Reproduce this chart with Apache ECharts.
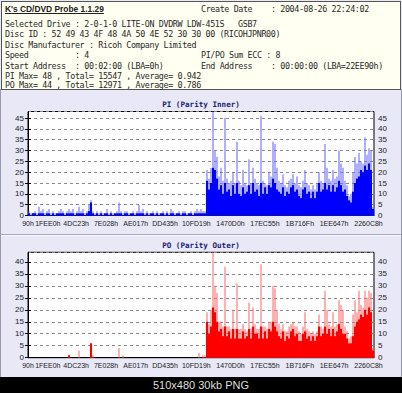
<!DOCTYPE html>
<html><head><meta charset="utf-8">
<script src="https://cdn.jsdelivr.net/npm/echarts@6/dist/echarts.min.js"></script>
<style>
html,body{margin:0;padding:0;width:402px;height:393px;overflow:hidden;background:#e8e8f6;}
#panel{position:absolute;left:0;top:89px;width:400px;height:287px;border:1px solid #9a9aae;background:#e8e8f6}
#sep{position:absolute;left:1px;top:234px;width:400px;height:1px;background:#a8a8bc}
#sep2{position:absolute;left:1px;top:235px;width:400px;height:1px;background:#fafaff}
#hdr{position:absolute;left:1px;top:1px;width:398px;height:87px;border:1px solid #555;background:#fffff2}
.l{position:absolute;font-family:'DejaVu Sans Mono',monospace;font-size:8.4px;letter-spacing:-0.38px;color:#2a2a2a;white-space:pre;line-height:9px}
#ttl{position:absolute;left:5px;top:4px;font-family:'Liberation Sans',Arial,sans-serif;font-weight:bold;font-size:8.4px;color:#222;text-decoration:underline;white-space:pre;line-height:10px}
#chart{position:absolute;left:0;top:0;width:402px;height:393px}
#cap{position:absolute;left:0;top:377px;width:402px;height:16px;background:#000;color:#ddd;font:11px 'Liberation Sans',Arial,sans-serif;text-align:center;line-height:17px}
</style></head>
<body>
<div id="panel"></div>
<div id="sep"></div><div id="sep2"></div>
<div id="hdr"></div>
<div id="ttl">K's CD/DVD Probe 1.1.29</div>
<div class="l" style="left:201px;top:4.5px">Create Date    : 2004-08-26 22:24:02</div>
<div class="l" style="left:5px;top:19.5px">Selected Drive : 2-0-1-0 LITE-ON DVDRW LDW-451S   GSB7</div>
<div class="l" style="left:5px;top:30px">Disc ID : 52 49 43 4F 48 4A 50 4E 52 30 30 00 (RICOHJPNR00)</div>
<div class="l" style="left:5px;top:40.5px">Disc Manufacturer : Ricoh Company Limited</div>
<div class="l" style="left:5px;top:51px">Speed          : 4</div>
<div class="l" style="left:201px;top:51px">PI/PO Sum ECC : 8</div>
<div class="l" style="left:5px;top:61.5px">Start Address  : 00:02:00 (LBA=0h)</div>
<div class="l" style="left:201px;top:61.5px">End Address    : 00:00:00 (LBA=22EE90h)</div>
<div class="l" style="left:5px;top:71.5px">PI Max= 48 , Total= 15547 , Average= 0.942</div>
<div class="l" style="left:5px;top:80.5px">PO Max= 44 , Total= 12971 , Average= 0.786</div>
<div id="chart"></div>
<div id="cap">510x480 30kb PNG</div>
<script>
// ---------- data ----------
const END_LBA_HEX = '22EE90';
const xTickLabels = ['90h','1FEE0h','4DC23h','7E028h','AE017h','DD435h','10FD19h','1470D0h','17EC55h','1B716Fh','1EE647h','2260C8h'];
const piTitle = 'PI (Parity Inner)';
const poTitle = 'PO (Parity Outer)';
const piMax = 48, poMax = 44;

// sampled error counts along the disc (peak per sample, and the dense base level)
const piPeak = [
2,1,1,2,1,4,2,3,1,2, 3,1,2,1,1,2,3,2,1,2, 3,2,3,1,2,4,2,3,1,2, 5,7,2,1,2,1,2,1,1,3,
1,2,1,1,2,6,2,1,2,2, 1,1,2,1,2,5,2,3,1,2, 1,1,2,1,2,1,1,2,1,2, 1,3,2,1,1,2,1,2,2,1,
1,2,1,2,3,2,
3,2,2,21,17,22,48,30,27,18, 22,16,45,17,15,16,20,15,34,16, 14,21,15,14,26,15,22,17,15,14,
46,16,15,14,20,18,34,33,22,16, 15,19,14,13,16,17,19,15,18,14, 13,16,21,15,14,12,14,12,15,20,
16,15,33,22,17,16,21,17,18,30, 24,22,16,14,9,10,20,27,24,29, 25,24,36,28,31,30,4];
const piBase = [
1,0,1,1,0,1,1,1,0,1, 1,0,1,0,1,1,1,1,0,1, 1,1,1,0,1,1,1,1,0,1, 2,6,1,0,1,0,1,0,1,1,
0,1,0,1,1,1,1,0,1,1, 0,1,1,0,1,1,1,1,0,1, 0,1,1,0,1,0,1,1,0,1, 0,1,1,0,1,1,0,1,1,0,
1,1,0,1,1,1,
1,1,1,16,12,15,22,21,17,12, 14,10,15,11,12,9,14,10,15,10, 9,13,10,11,14,10,15,11,12,9,
15,10,13,10,14,13,17,15,12,11, 10,13,9,11,10,13,14,11,12,9, 8,12,13,10,11,8,11,8,11,15,
11,12,15,12,14,11,14,11,13,16, 14,11,12,9,7,6,11,15,17,18, 21,20,23,21,24,21,3];
const poPeak = [
0,0,0,0,0,0,0,0,0,0, 0,0,0,0,0,0,0,0,0,0, 1,0,0,0,0,3,0,0,0,0, 0,6,1,0,0,0,0,0,0,0,
0,0,0,0,0,4,0,1,0,0, 0,0,0,0,0,0,0,0,0,0, 0,0,0,0,0,0,0,0,0,0, 0,0,0,0,0,0,0,0,0,0,
0,0,0,0,0,2,
0,1,1,19,14,20,44,30,27,15, 15,13,38,13,13,12,20,12,31,12, 12,14,12,11,23,12,21,14,12,12,
39,13,13,12,15,15,30,29,20,14, 12,14,11,11,13,14,15,13,13,11, 10,13,19,12,11,10,11,10,11,18,
13,12,28,20,14,13,19,13,14,24, 22,20,13,11,8,9,18,24,19,28, 22,21,28,25,28,27,4];
const poBase = [
0,0,0,0,0,0,0,0,0,0, 0,0,0,0,0,0,0,0,0,0, 1,0,0,0,0,0,0,0,0,0, 0,6,0,0,0,0,0,0,0,0,
0,0,0,0,0,0,0,0,0,0, 0,0,0,0,0,0,0,0,0,0, 0,0,0,0,0,0,0,0,0,0, 0,0,0,0,0,0,0,0,0,0,
0,0,0,0,0,0,
0,0,0,15,10,13,21,19,15,11, 12,9,13,9,11,8,12,8,12,8, 8,11,8,9,12,8,13,10,10,8,
13,8,11,8,12,11,15,13,11,9, 8,11,7,9,8,11,12,9,10,7, 7,10,11,8,9,7,9,7,9,13,
9,10,13,10,12,9,12,9,11,14, 12,10,10,8,6,6,9,13,15,16, 18,17,20,18,21,19,3];

// ---------- chart ----------
const END_LBA = parseInt(END_LBA_HEX, 16);
const N = piPeak.length;
const STEP = END_LBA / N;
const toPts = arr => arr.map((v, i) => [(i + 0.5) * STEP, v]);
const tickVals = xTickLabels.map(s => parseInt(s, 16));
const hexFmt = v => v.toString(16).toUpperCase() + 'h';

const FONT = "'Liberation Sans', Arial, sans-serif";
const grids = [
  {left: 28, right: 28, top: 111.5, height: 104},
  {left: 28, right: 28, top: 252.3, height: 105.4}
].map(g => Object.assign(g, {show: true, backgroundColor: '#ffffff', borderColor: '#000', borderWidth: 1}));

function xAx(gi, visible) {
  return {
    type: 'value', gridIndex: gi, min: 0, max: END_LBA, show: visible,
    splitLine: {show: false},
    axisLine: {show: true, lineStyle: {color: '#000', width: 1}},
    axisTick: {show: false},
    axisLabel: {customValues: tickVals, formatter: hexFmt, fontSize: 7, color: '#222', fontFamily: FONT, margin: 4}
  };
}
function yAx(gi, max, pos) {
  return {
    type: 'value', gridIndex: gi, min: 0, max: max, interval: 5, position: pos,
    splitLine: {show: pos === 'left', lineStyle: {color: '#8a8a8a', type: [3, 3], width: 1}},
    axisLine: {show: true, lineStyle: {color: '#000'}},
    axisTick: {show: true, length: 3, lineStyle: {color: '#000'}},
    axisLabel: {fontSize: 8, color: '#222', fontFamily: FONT, margin: 4, showMaxLabel: false}
  };
}
function bars(xi, yi, data, color, width, z) {
  return {type: 'bar', xAxisIndex: xi, yAxisIndex: yi, data: toPts(data), barWidth: width,
    itemStyle: {color: color}, z: z, silent: true, large: false};
}
const chart = echarts.init(document.getElementById('chart'), null, {renderer: 'svg'});
const titleStyle = {fontFamily: "'DejaVu Sans Mono', monospace", fontWeight: 'bold', fontSize: 7.6, color: '#1c1c78'};
chart.setOption({
  animation: false,
  backgroundColor: 'transparent',
  title: [
    {text: piTitle, left: 'center', top: 100, padding: 0, textStyle: titleStyle},
    {text: poTitle, left: 'center', top: 241, padding: 0, textStyle: titleStyle}
  ],
  grid: grids,
  xAxis: [xAx(0, true), xAx(0, false), xAx(1, true), xAx(1, false)],
  yAxis: [yAx(0, piMax, 'left'), yAx(0, piMax, 'right'), yAx(1, poMax, 'left'), yAx(1, poMax, 'right')],
  series: [
    bars(0, 0, piPeak, '#6e6eff', 1.1, 2),
    bars(1, 0, piBase, '#0000ff', 2.1, 3),
    bars(2, 2, poPeak, '#ff7070', 1.1, 2),
    bars(3, 2, poBase, '#ff0000', 2.1, 3)
  ]
});
</script>
</body></html>
